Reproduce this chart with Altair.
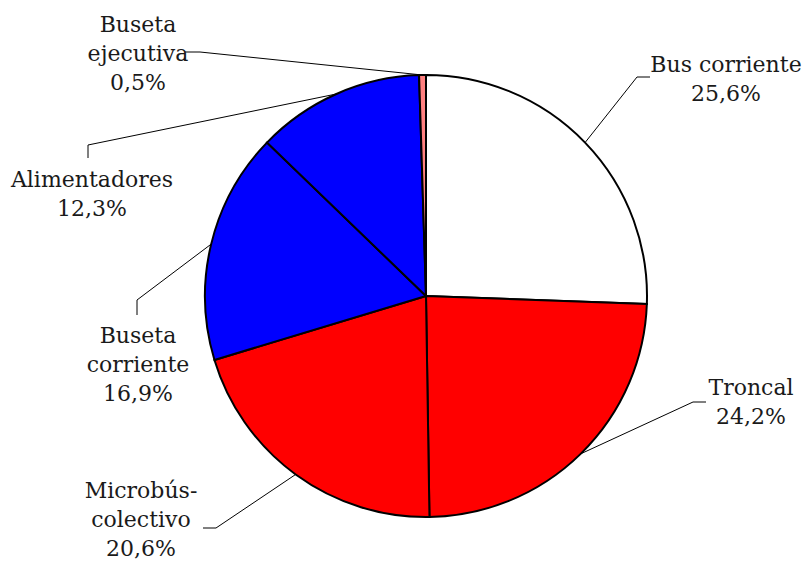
import altair as alt
import numpy as np
import pandas as pd

# ---- data ----
categories = ["Bus corriente", "Troncal", "Microbús-colectivo",
              "Buseta corriente", "Alimentadores", "Buseta ejecutiva"]
label_names = ["Bus corriente", "Troncal", "Microbús-\ncolectivo",
               "Buseta\ncorriente", "Alimentadores", "Buseta\nejecutiva"]
shares = [25.6, 24.2, 20.6, 16.9, 12.3, 0.5]

# ---- style / layout ----
colors = ["#FFFFFF", "#FF0000", "#FF0000", "#0000FF", "#0000FF", "#FF8080"]
W, H = 794, 553
CX, CY = 418, 288          # pie centre inside plot area (px)
R = 221                    # pie radius (px)
# label anchor (centre x, first baseline y) relative to pie centre, y up
label_pos = [(300, 224), (325, -99), (-285, -202), (-288, -47), (-334, 109), (-288, 264)]
# leader elbow and end points relative to pie centre
elbow_pos = [(211, 219), (267, -106), (-210, -232), (-289, -4), (-338, 151), (-226, 244)]
end_pos = [(224, 219), (280, -106), (-223, -232), (-289, -19), (-338, 138), (-241, 244)]

FONT = "DejaVu Serif"

pie_df = pd.DataFrame({"cat": categories, "value": shares, "idx": range(len(shares))})

# leader lines: start at slice mid-angle on the rim
vals = np.array(shares)
cum = np.cumsum(vals)
mid = (cum - vals / 2) / vals.sum() * 2 * np.pi
rows = []
for i, c in enumerate(categories):
    ax, ay = R * np.sin(mid[i]), R * np.cos(mid[i])
    pts = [(ax, ay), elbow_pos[i], end_pos[i]]
    for k, (px, py) in enumerate(pts):
        rows.append({"cat": c, "k": k, "x": px, "y": py})
lines_df = pd.DataFrame(rows)

lab_df = pd.DataFrame({
    "cat": categories,
    "text": [f"{n}\n{v:.1f}%".replace(".", ",") for n, v in zip(label_names, shares)],
    "x": [p[0] for p in label_pos],
    "y": [p[1] for p in label_pos],
})

xs = alt.Scale(domain=[-CX, W - CX], nice=False, zero=False)
ys = alt.Scale(domain=[CY - H, CY], nice=False, zero=False)

pie = alt.Chart(pie_df).mark_arc(outerRadius=R, stroke="black", strokeWidth=2).encode(
    theta=alt.Theta("value:Q", stack=True),
    order=alt.Order("idx:Q"),
    color=alt.Color("cat:N", scale=alt.Scale(domain=categories, range=colors), legend=None),
    x=alt.datum(0, scale=xs, axis=None),
    y=alt.datum(0, scale=ys, axis=None),
)

leaders = alt.Chart(lines_df).mark_line(color="black", strokeWidth=1).encode(
    x=alt.X("x:Q", scale=xs, axis=None),
    y=alt.Y("y:Q", scale=ys, axis=None),
    detail="cat:N",
    order="k:Q",
)

labels = alt.Chart(lab_df).mark_text(
    font=FONT, fontSize=22, color="#1a1a1a", align="center",
    baseline="alphabetic", lineBreak="\n", lineHeight=29,
).encode(
    x=alt.X("x:Q", scale=xs, axis=None),
    y=alt.Y("y:Q", scale=ys, axis=None),
    text="text:N",
)

chart = alt.layer(leaders, pie, labels).properties(
    width=W, height=H, padding=0, autosize=alt.AutoSizeParams(type="none"),
    background="white",
).configure_view(stroke=None)

chart.save("out.html", embed_options={"renderer": "svg", "actions": False})
